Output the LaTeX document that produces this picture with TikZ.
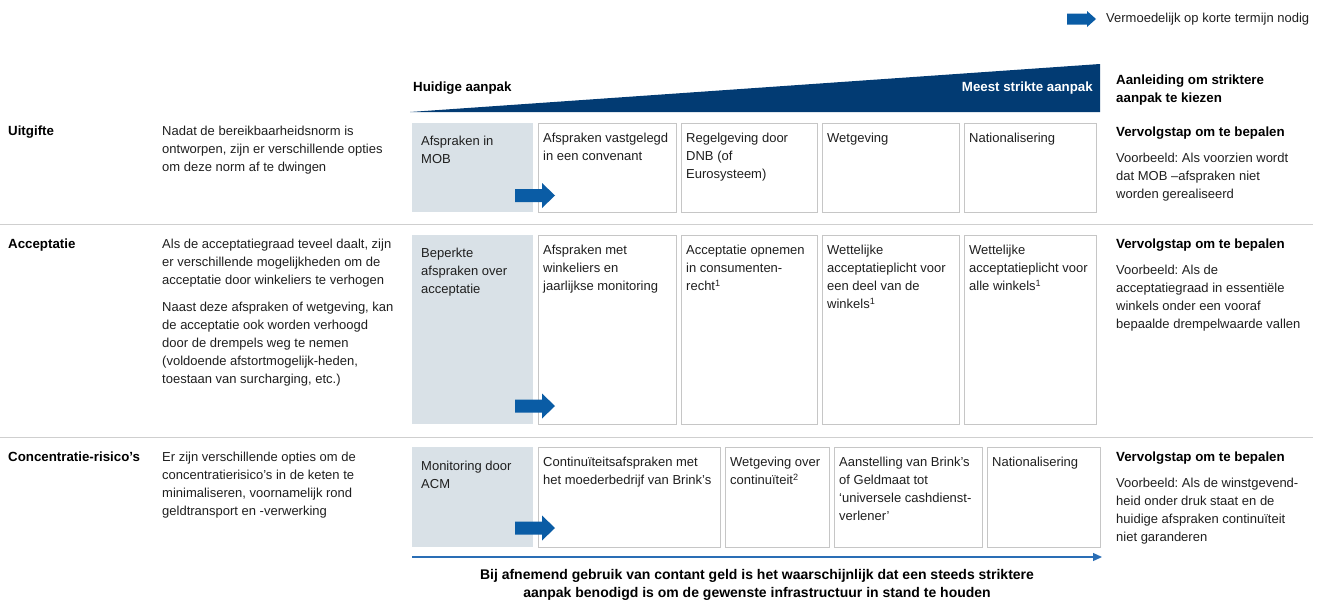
\documentclass[tikz,border=0pt]{standalone}
\usepackage{fontspec}
\setmainfont{Liberation Sans}
\usetikzlibrary{arrows.meta}
\frenchspacing
\definecolor{navy}{HTML}{023B73}
\definecolor{arrowblue}{HTML}{0A5CA5}
\definecolor{lineblue}{HTML}{2A6EB5}
\definecolor{grayfill}{HTML}{D9E1E7}
\definecolor{boxline}{HTML}{C6C6C6}
\definecolor{sepline}{HTML}{CFCFCF}
\tikzset{
  txt/.style={anchor=north west, inner sep=0pt, align=left, text=black!88, font=\frenchspacing\fontsize{13}{18}\selectfont},
  hd/.style={anchor=north west, inner sep=0pt, align=left, text=black, font=\frenchspacing\bfseries\fontsize{13.3}{18}\selectfont},
  optbox/.style={draw=boxline, line width=1pt, fill=white, anchor=north west, inner sep=0pt},
  curbox/.style={fill=grayfill, anchor=north west, inner sep=0pt},
  sep/.style={draw=sepline, line width=1pt},
  blockarr/.pic={\fill[arrowblue] (0,-6.5) -- (27,-6.5) -- (27,-12.5) -- (40,0) -- (27,12.5) -- (27,6.5) -- (0,6.5) -- cycle;}
}
\begin{document}
\begin{tikzpicture}[x=1pt,y=-1pt]
\useasboundingbox (0,0) rectangle (1326,603);

% legend
\fill[arrowblue] (1067,13.5) -- (1087,13.5) -- (1087,11) -- (1096,19) -- (1087,27) -- (1087,24.5) -- (1067,24.5) -- cycle;
\node[txt, anchor=west, font=\fontsize{13}{14}\selectfont] (legend) at (1106,19) {Vermoedelijk op korte termijn nodig};

% wedge
\fill[navy] (410,112) -- (1100,64) -- (1100,112) -- cycle;
\node[hd, anchor=west] (cur) at (413,88) {Huidige aanpak};
\node[hd, anchor=east, text=white] (strict) at (1093,88) {Meest strikte aanpak};
\node[hd] (reason) at (1116,75) {Aanleiding om striktere\\aanpak te kiezen};

% separators
\draw[sep] (0,224) -- (1313,224);
\draw[sep] (0,437) -- (1313,437);

% ---------- Row 1: Uitgifte
\node[hd] (l1) at (8,126) {Uitgifte};
\node[txt] (d1) at (162,126) {Nadat de bereikbaarheidsnorm is\\ontworpen, zijn er verschillende opties\\om deze norm af te dwingen};
\node[curbox, minimum width=121pt, minimum height=89pt] (g1) at (412,123) {};
\node[txt] at ([shift={(9,13)}]g1.north west) {Afspraken in\\MOB};
\node[optbox, minimum width=138pt, minimum height=89pt] (a1) at (538,123) {};
\node[optbox, minimum width=136pt, minimum height=89pt] (b1) at (681,123) {};
\node[optbox, minimum width=137pt, minimum height=89pt] (c1) at (822,123) {};
\node[optbox, minimum width=132pt, minimum height=89pt] (e1) at (964,123) {};
\node[txt] at ([shift={(5,10)}]a1.north west) {Afspraken vastgelegd\\in een convenant};
\node[txt] at ([shift={(5,10)}]b1.north west) {Regelgeving door\\DNB (of\\Eurosysteem)};
\node[txt] at ([shift={(5,10)}]c1.north west) {Wetgeving};
\node[txt] at ([shift={(5,10)}]e1.north west) {Nationalisering};
\pic at (515,195.5) {blockarr};
\node[hd] (v1) at (1116,127) {Vervolgstap om te bepalen};
\node[txt] (x1) at (1116,153) {Voorbeeld: Als voorzien wordt\\dat MOB --afspraken niet\\worden gerealiseerd};

% ---------- Row 2: Acceptatie
\node[hd] (l2) at (8,239) {Acceptatie};
\node[txt] (d2) at (162,239) {Als de acceptatiegraad teveel daalt, zijn\\er verschillende mogelijkheden om de\\acceptatie door winkeliers te verhogen};
\node[txt] (d2b) at (162,302) {Naast deze afspraken of wetgeving, kan\\de acceptatie ook worden verhoogd\\door de drempels weg te nemen\\(voldoende afstortmogelijk-heden,\\toestaan van surcharging, etc.)};
\node[curbox, minimum width=121pt, minimum height=189pt] (g2) at (412,235) {};
\node[txt] at ([shift={(9,13)}]g2.north west) {Beperkte\\afspraken over\\acceptatie};
\node[optbox, minimum width=138pt, minimum height=189pt] (a2) at (538,235) {};
\node[optbox, minimum width=136pt, minimum height=189pt] (b2) at (681,235) {};
\node[optbox, minimum width=137pt, minimum height=189pt] (c2) at (822,235) {};
\node[optbox, minimum width=132pt, minimum height=189pt] (e2) at (964,235) {};
\node[txt] at ([shift={(5,10)}]a2.north west) {Afspraken met\\winkeliers en\\jaarlijkse monitoring};
\node[txt] at ([shift={(5,10)}]b2.north west) {Acceptatie opnemen\\in consumenten-\\recht\textsuperscript{1}};
\node[txt] at ([shift={(5,10)}]c2.north west) {Wettelijke\\acceptatieplicht voor\\een deel van de\\winkels\textsuperscript{1}};
\node[txt] at ([shift={(5,10)}]e2.north west) {Wettelijke\\acceptatieplicht voor\\alle winkels\textsuperscript{1}};
\pic at (515,406) {blockarr};
\node[hd] (v2) at (1116,239) {Vervolgstap om te bepalen};
\node[txt] (x2) at (1116,265) {Voorbeeld: Als de\\acceptatiegraad in essentiële\\winkels onder een vooraf\\bepaalde drempelwaarde vallen};

% ---------- Row 3: Concentratie-risico's
\node[hd] (l3) at (8,452) {Concentratie-risico’s};
\node[txt] (d3) at (162,452) {Er zijn verschillende opties om de\\concentratierisico’s in de keten te\\minimaliseren, voornamelijk rond\\geldtransport en -verwerking};
\node[curbox, minimum width=121pt, minimum height=100pt] (g3) at (412,447) {};
\node[txt] at ([shift={(9,14)}]g3.north west) {Monitoring door\\ACM};
\node[optbox, minimum width=182pt, minimum height=100pt] (a3) at (538,447) {};
\node[optbox, minimum width=104pt, minimum height=100pt] (b3) at (725,447) {};
\node[optbox, minimum width=148pt, minimum height=100pt] (c3) at (834,447) {};
\node[optbox, minimum width=113pt, minimum height=100pt] (e3) at (987,447) {};
\node[txt] at ([shift={(5,10)}]a3.north west) {Continuïteitsafspraken met\\het moederbedrijf van Brink’s};
\node[txt] at ([shift={(5,10)}]b3.north west) {Wetgeving over\\continuïteit\textsuperscript{2}};
\node[txt] at ([shift={(5,10)}]c3.north west) {Aanstelling van Brink’s\\of Geldmaat tot\\‘universele cashdienst-\\verlener’};
\node[txt] at ([shift={(5,10)}]e3.north west) {Nationalisering};
\pic at (515,528) {blockarr};
\node[hd] (v3) at (1116,452) {Vervolgstap om te bepalen};
\node[txt] (x3) at (1116,478) {Voorbeeld: Als de winstgevend-\\heid onder druk staat en de\\huidige afspraken continuïteit\\niet garanderen};

% timeline
\coordinate (t0) at (412,557);
\coordinate (t1) at (1102,557);
\draw[lineblue, line width=1.3pt, -{Triangle[length=9pt,width=8pt]}] (t0) -- (t1);
\node[hd, anchor=north, align=center, font=\bfseries\fontsize{14}{18}\selectfont] (concl) at (757,569) {Bij afnemend gebruik van contant geld is het waarschijnlijk dat een steeds striktere\\aanpak benodigd is om de gewenste infrastructuur in stand te houden};
\end{tikzpicture}
\end{document}
